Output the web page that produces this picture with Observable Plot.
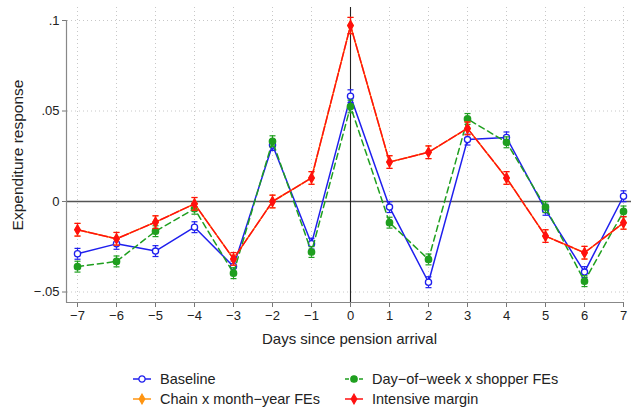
<!DOCTYPE html>
<html>
<head>
<meta charset="utf-8">
<script src="https://cdn.jsdelivr.net/npm/d3@7"></script>
<script src="https://cdn.jsdelivr.net/npm/@observablehq/plot@0.6"></script>
<style>
  body { margin: 0; background: #fff; font-family: "Liberation Sans", Arial, Helvetica, sans-serif; }
  #chart svg { display: block; }
  #legend { position: relative; height: 51px; font-size: 14.5px; color: #222; }
  .item { position: absolute; display: flex; align-items: center; height: 20px; white-space: nowrap; }
  .item svg { margin-right: 9px; }
</style>
</head>
<body>
<div id="chart"></div>
<div id="legend"></div>
<script>
// ---- data ----
const days = [-7, -6, -5, -4, -3, -2, -1, 0, 1, 2, 3, 4, 5, 6, 7];
const xTickLabels = ["−7", "−6", "−5", "−4", "−3", "−2", "−1", "0", "1", "2", "3", "4", "5", "6", "7"];
const yTicks = [-0.05, 0, 0.05, 0.1];
const yTickLabels = ["−.05", "0", ".05", ".1"];

const baseline    = [-0.0289, -0.0234, -0.0274, -0.0142, -0.0359, 0.0312, -0.0233, 0.0582, -0.0031, -0.0446, 0.0342, 0.0354, -0.0046, -0.0390, 0.0029];
const baselineSE  = [0.0030, 0.0030, 0.0030, 0.0030, 0.0030, 0.0030, 0.0030, 0.0035, 0.0030, 0.0030, 0.0030, 0.0030, 0.0030, 0.0030, 0.0030];
const dayOfWeek   = [-0.0360, -0.0331, -0.0164, -0.0040, -0.0396, 0.0333, -0.0279, 0.0525, -0.0117, -0.0320, 0.0456, 0.0327, -0.0031, -0.0440, -0.0055];
const dayOfWeekSE = [0.0030, 0.0030, 0.0030, 0.0030, 0.0030, 0.0030, 0.0030, 0.0035, 0.0030, 0.0030, 0.0030, 0.0030, 0.0030, 0.0030, 0.0030];
const chain       = [-0.0156, -0.0206, -0.0114, -0.0013, -0.0317, 0.0000, 0.0130, 0.0972, 0.0218, 0.0272, 0.0404, 0.0130, -0.0191, -0.0283, -0.0118];
const chainSE     = [0.0035, 0.0035, 0.0035, 0.0035, 0.0035, 0.0035, 0.0035, 0.0045, 0.0035, 0.0035, 0.0035, 0.0035, 0.0035, 0.0035, 0.0035];
const intensive   = [-0.0156, -0.0206, -0.0114, -0.0013, -0.0317, 0.0000, 0.0130, 0.0972, 0.0218, 0.0272, 0.0404, 0.0130, -0.0191, -0.0283, -0.0118];
const intensiveSE = [0.0035, 0.0035, 0.0035, 0.0035, 0.0035, 0.0035, 0.0035, 0.0045, 0.0035, 0.0035, 0.0035, 0.0035, 0.0035, 0.0035, 0.0035];

const seriesNames = ["Baseline", "Day−of−week x shopper FEs", "Chain x month−year FEs", "Intensive margin"];
const xTitle = "Days since pension arrival";
const yTitle = "Expenditure response";

// ---- styles ----
const series = [
  {name: seriesNames[0], values: baseline,  se: baselineSE,  color: "#1f1fee", symbol: "circle",  fill: "white",   r: 3.1, dash: null},
  {name: seriesNames[1], values: dayOfWeek, se: dayOfWeekSE, color: "#1f9f1f", symbol: "circle",  fill: "#1f9f1f", r: 3.2, dash: "6,4"},
  {name: seriesNames[2], values: chain,     se: chainSE,     color: "#ff9410", symbol: "diamond", fill: "#ff9410", r: 2.9, dash: null},
  {name: seriesNames[3], values: intensive, se: intensiveSE, color: "#ff1010", symbol: "diamond", fill: "#ff1010", r: 2.9, dash: "9,2"}
];

const capSymbol = {
  draw(context, size) {
    const w = Math.sqrt(size / Math.PI);
    context.moveTo(-w, 0);
    context.lineTo(w, 0);
  }
};

const W = 631, H = 356;
const mLeft = 67, mTop = 7, mRight = 0, mBottom = 54;

const marks = [
  Plot.gridY({ticks: [-0.05, 0.05, 0.1], stroke: "#c8c8c8", strokeOpacity: 1, strokeDasharray: "1,3"}),
  Plot.gridX({ticks: days.filter(d => d !== 0), stroke: "#c8c8c8", strokeOpacity: 1, strokeDasharray: "1,3"}),
  Plot.ruleY([0], {stroke: "#555", strokeWidth: 1.4}),
  Plot.ruleX([0], {stroke: "#222", strokeWidth: 1.1}),
  Plot.axisY({ticks: yTicks, tickFormat: (d) => yTickLabels[yTicks.indexOf(d)], tickSize: 5, tickPadding: 3, stroke: "#777", fill: "#222", fontSize: 13, label: null}),
  Plot.axisX({ticks: days, tickFormat: (d) => xTickLabels[days.indexOf(d)], tickSize: 5, tickPadding: 3, stroke: "#777", fill: "#222", fontSize: 13, label: null}),
  Plot.text([yTitle], {frameAnchor: "left", textAnchor: "middle", dx: -49, rotate: -90, fontSize: 15.5, fill: "#222"}),
  Plot.text([xTitle], {frameAnchor: "bottom", textAnchor: "middle", dy: 41, fontSize: 15, fill: "#222"})
];

for (const s of series) {
  const rows = days.map((d, i) => ({x: d, y: s.values[i], lo: s.values[i] - s.se[i], hi: s.values[i] + s.se[i]}));
  marks.push(
    Plot.line(rows, {x: "x", y: "y", stroke: s.color, strokeWidth: 1.5, strokeDasharray: s.dash ?? undefined}),
    Plot.ruleX(rows, {x: "x", y1: "lo", y2: "hi", stroke: s.color, strokeWidth: 1.2}),
    Plot.dot(rows, {x: "x", y: "lo", symbol: capSymbol, r: 3, stroke: s.color, fill: "none", strokeWidth: 1.2}),
    Plot.dot(rows, {x: "x", y: "hi", symbol: capSymbol, r: 3, stroke: s.color, fill: "none", strokeWidth: 1.2}),
    Plot.dot(rows, {x: "x", y: "y", symbol: s.symbol, r: s.r, stroke: s.color, fill: s.fill, strokeWidth: 1.3})
  );
}

const plot = Plot.plot({
  width: W, height: H,
  marginLeft: mLeft, marginTop: mTop, marginRight: mRight, marginBottom: mBottom,
  x: {domain: [-7, 7], range: [77, 623]},
  y: {domain: [-0.05, 0.1], range: [291.5, 20]},
  style: {fontFamily: "'Liberation Sans', Arial, Helvetica, sans-serif", fontSize: "13px", background: "white", color: "#222"},
  marks
});

// axis lines (positions via the plot's scales)
const xs = plot.scale("x"), ys = plot.scale("y");
const svg = d3.select(plot);
svg.append("line")
  .attr("x1", mLeft - 0.5).attr("x2", mLeft - 0.5)
  .attr("y1", ys.apply(0.1)).attr("y2", H - mBottom + 0.5)
  .attr("stroke", "#888").attr("stroke-width", 1.2);
svg.append("line")
  .attr("x1", mLeft - 1).attr("x2", xs.apply(7) + 0.5)
  .attr("y1", H - mBottom + 0.5).attr("y2", H - mBottom + 0.5)
  .attr("stroke", "#888").attr("stroke-width", 1.2);

document.getElementById("chart").appendChild(plot);

// ---- legend ----
const legend = d3.select("#legend");
const pos = [[133, 23], [345, 23], [133, 43], [345, 43]];
series.forEach((s, i) => {
  const item = legend.append("div").attr("class", "item")
    .style("left", pos[i][0] + "px").style("top", (pos[i][1] - 10) + "px");
  const sv = item.append("svg").attr("width", 18).attr("height", 12);
  sv.append("line").attr("x1", 0).attr("x2", 18).attr("y1", 6).attr("y2", 6)
    .attr("stroke", s.color).attr("stroke-width", 1.5)
    .attr("stroke-dasharray", i === 1 ? "4,3" : null);
  sv.append("path")
    .attr("transform", "translate(9,6)")
    .attr("d", d3.symbol(s.symbol === "circle" ? d3.symbolCircle : d3.symbolDiamond, Math.PI * s.r * s.r)())
    .attr("fill", s.fill).attr("stroke", s.color).attr("stroke-width", 1.3);
  item.append("span").text(s.name);
});
</script>
</body>
</html>
